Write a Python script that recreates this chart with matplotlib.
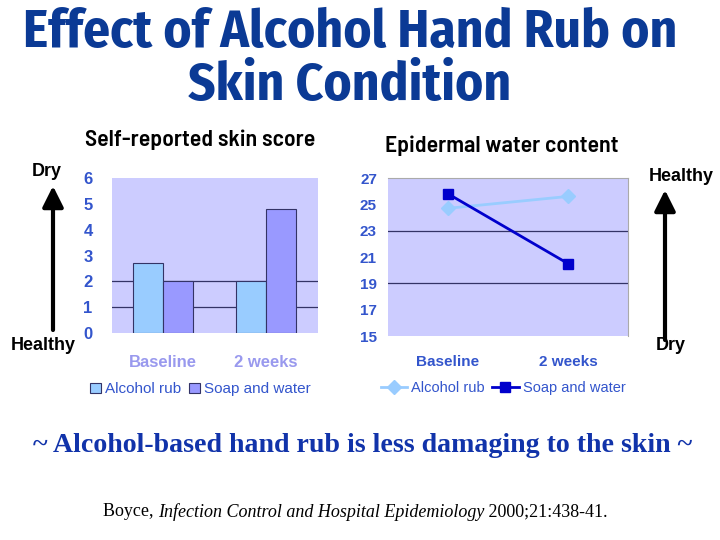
import matplotlib
matplotlib.use("Agg")
import matplotlib.pyplot as plt
import matplotlib.patches as mpatches
import numpy as np

# ---- data ----
categories = ["Baseline", "2 weeks"]
series_names = ["Alcohol rub", "Soap and water"]
skin_score_alcohol = [2.7, 2.0]
skin_score_soap = [2.0, 4.8]
water_alcohol = [24.7, 25.6]
water_soap = [25.8, 20.5]
bar_ticks = [0, 1, 2, 3, 4, 5, 6]
line_ticks = [15, 17, 19, 21, 23, 25, 27]
bar_grid = [1, 2]
line_grid = [19, 23]

W, H = 720, 540
fig = plt.figure(figsize=(7.2, 5.4), dpi=100)
fig.patch.set_facecolor("white")
fig.canvas.draw()
R = fig.canvas.get_renderer()

def fx(px):
    return px / W

def fy(py):
    return 1 - py / H

def fit(t, target):
    w = t.get_window_extent(R).width
    t.set_fontsize(t.get_fontsize() * target / w)

SANS = ["Liberation Sans", "DejaVu Sans"]
COND = ["Fira Sans Condensed", "DejaVu Sans"]
SEMI = ["Barlow Semi Condensed", "Fira Sans Condensed", "DejaVu Sans"]
SERIF = ["Liberation Serif", "DejaVu Serif"]
TICKBLUE = "#3355CC"
BG = "#CCCCFF"
GRIDC = "#333366"

# ---- title ----
t1 = fig.text(fx(350), fy(33), "Effect of Alcohol Hand Rub on", ha="center", va="center",
              fontsize=36, fontweight="bold", family=COND, color="#0B3A95")
fit(t1, 655)
t2 = fig.text(fx(350), fy(86), "Skin Condition", ha="center", va="center",
              fontsize=t1.get_fontsize(), fontweight="bold", family=COND, color="#0B3A95")
s1 = fig.text(fx(200), fy(140), "Self-reported skin score", ha="center", va="center",
              fontsize=13, fontweight=600, family=SEMI, color="black")
fit(s1, 230)
s2 = fig.text(fx(502), fy(146), "Epidermal water content", ha="center", va="center",
              fontsize=s1.get_fontsize(), fontweight=600, family=SEMI, color="black")

# ---- bar chart ----
axb = fig.add_axes([fx(112), fy(333), fx(318 - 112), (333 - 178) / H])
axb.set_facecolor(BG)
x = np.arange(len(categories))
bw = 0.29
for g in bar_grid:
    axb.axhline(g, color=GRIDC, lw=0.9, zorder=1)
axb.bar(x - bw / 2, skin_score_alcohol, bw, color="#99CCFF", edgecolor=GRIDC, lw=0.8,
        zorder=2, label=series_names[0])
axb.bar(x + bw / 2, skin_score_soap, bw, color="#9999FF", edgecolor=GRIDC, lw=0.8,
        zorder=2, label=series_names[1])
axb.set_xlim(-0.49, 1.5)
axb.set_ylim(0, 6)
axb.set_yticks(bar_ticks)
axb.set_yticklabels([str(t) for t in bar_ticks], fontsize=12, fontweight="bold",
                    color=TICKBLUE, family=SANS)
axb.tick_params(axis="y", length=0, pad=14)
axb.set_xticks(x)
axb.set_xticklabels(categories, fontsize=12, fontweight="bold", color="#9999EE", family=SANS)
axb.tick_params(axis="x", length=0, pad=16)
for s in axb.spines.values():
    s.set_visible(False)
axb.legend(loc="upper center", bbox_to_anchor=(0.43, -0.23), ncol=2, frameon=False,
           handlelength=0.7, handleheight=0.7, handletextpad=0.3,
           columnspacing=0.5, labelcolor=TICKBLUE, prop={"family": SANS, "size": 11})

# ---- line chart ----
axl = fig.add_axes([fx(388), fy(336), fx(628 - 388), (336 - 178) / H])
axl.set_facecolor(BG)
for g in line_grid:
    axl.axhline(g, color=GRIDC, lw=0.9, zorder=1)
axl.plot(x, water_alcohol, color="#99CCFF", lw=2, marker="D", ms=7, zorder=3,
         label=series_names[0])
axl.plot(x, water_soap, color="#0000CC", lw=2, marker="s", ms=7, zorder=3,
         label=series_names[1])
axl.set_xlim(-0.5, 1.5)
axl.set_ylim(15, 27)
axl.set_yticks(line_ticks)
axl.set_yticklabels([str(t) for t in line_ticks], fontsize=11, fontweight="bold",
                    color=TICKBLUE, family=SANS)
axl.tick_params(axis="y", length=0, pad=8)
axl.set_xticks(x)
axl.set_xticklabels(categories, fontsize=11, fontweight="bold", color=TICKBLUE, family=SANS)
axl.tick_params(axis="x", length=0, pad=14)
for k, s in axl.spines.items():
    s.set_color("#AAAAAA")
    s.set_linewidth(0.8)
axl.spines["left"].set_visible(False)
axl.spines["bottom"].set_visible(False)
axl.legend(loc="upper center", bbox_to_anchor=(0.48, -0.2), ncol=2, frameon=False,
           handlelength=1.8, handletextpad=0.3, columnspacing=0.5, labelcolor=TICKBLUE,
           prop={"family": SANS, "size": 10.5})

# ---- side arrows ----
arrow_kw = dict(arrowstyle="-|>,head_length=0.9,head_width=0.45", color="black", lw=3,
                mutation_scale=14, shrinkA=0, shrinkB=0)
fig.patches.append(mpatches.FancyArrowPatch(
    (fx(53), fy(330)), (fx(53), fy(186)), transform=fig.transFigure, **arrow_kw))
fig.patches.append(mpatches.FancyArrowPatch(
    (fx(665), fy(340)), (fx(665), fy(190)), transform=fig.transFigure, **arrow_kw))
side_kw = dict(ha="center", va="center", fontsize=13, fontweight="bold", family=SANS)
fig.text(fx(47), fy(171), "Dry", **side_kw)
fig.text(fx(43), fy(345), "Healthy", **side_kw)
fig.text(fx(681), fy(177), "Healthy", **side_kw)
fig.text(fx(671), fy(346), "Dry", **side_kw)

# ---- bottom text ----
b = fig.text(fx(363), fy(445), "~ Alcohol-based hand rub is less damaging to the skin ~",
             ha="center", va="center", fontsize=18, fontweight="bold", family=SERIF,
             color="#1133AA")
fit(b, 658)

parts = [("Boyce, ", "normal"), ("Infection Control and Hospital Epidemiology", "italic"),
         (" 2000;21:438-41.", "normal")]
tmp = []
tot = 0
for s, st in parts:
    t = fig.text(0, 0, s, fontsize=12, style=st, family=SERIF)
    tot += t.get_window_extent(R).width
    tmp.append(t)
for t in tmp:
    t.remove()
fs = 12 * 504 / tot
cur = 103
for s, st in parts:
    t = fig.text(fx(cur), fy(512), s, ha="left", va="center", fontsize=fs, style=st,
                 family=SERIF, color="black")
    cur += t.get_window_extent(R).width

fig.savefig("out.png", dpi=100, facecolor="white")
